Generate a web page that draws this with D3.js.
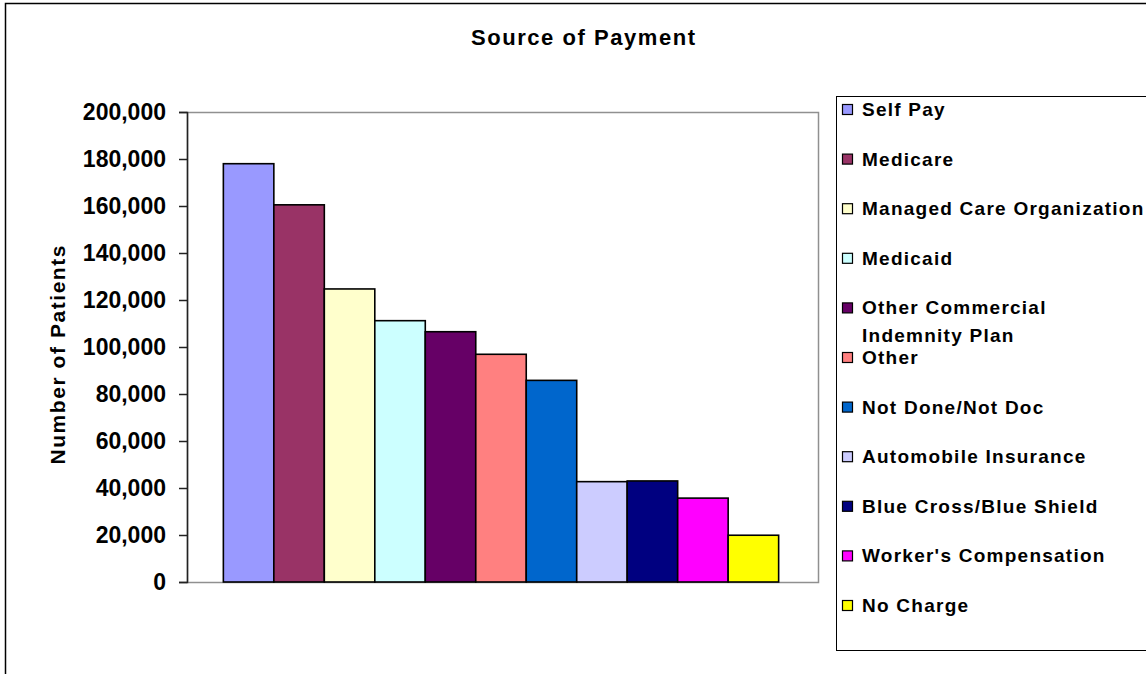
<!DOCTYPE html>
<html>
<head>
<meta charset="utf-8">
<script src="https://cdn.jsdelivr.net/npm/d3@7/dist/d3.min.js"></script>
<style>
  html, body { margin: 0; padding: 0; background: #fff; overflow: hidden; }
  svg { display: block; font-family: "Liberation Sans", Arial, sans-serif; font-weight: bold; }
</style>
</head>
<body>
<svg id="chart" width="1146" height="674"></svg>
<script>
// Patients by source of payment
const categories = [
  "Self Pay", "Medicare", "Managed Care Organization", "Medicaid",
  "Other Commercial Indemnity Plan", "Other", "Not Done/Not Doc",
  "Automobile Insurance", "Blue Cross/Blue Shield", "Worker's Compensation", "No Charge"
];
const patients = [178000, 160500, 124700, 111200, 106500, 96900, 85800, 42700, 43000, 35700, 19900];
const barColors = [
  "#9999FF", "#993366", "#FFFFCC", "#CCFFFF", "#660066", "#FF8080",
  "#0066CC", "#CCCCFF", "#000080", "#FF00FF", "#FFFF00"
];
// legend text, one array entry per line
const legendLines = [
  ["Self Pay"], ["Medicare"], ["Managed Care Organization"], ["Medicaid"],
  ["Other Commercial", "Indemnity Plan"], ["Other"], ["Not Done/Not Doc"],
  ["Automobile Insurance"], ["Blue Cross/Blue Shield"], ["Worker's Compensation"], ["No Charge"]
];
const yTicks = [0, 20000, 40000, 60000, 80000, 100000, 120000, 140000, 160000, 180000, 200000];
const chartTitle = "Source of Payment";
const yTitle = "Number of Patients";

const svg = d3.select("#chart");

// outer chart frame (runs off the right and bottom edges)
svg.append("rect")
  .attr("x", 5.5).attr("y", 3.5).attr("width", 1300).attr("height", 800)
  .attr("fill", "#fff").attr("stroke", "#000").attr("stroke-width", 1.5);

const plot = { left: 187, right: 818, top: 112, bottom: 582 };

const y = d3.scaleLinear().domain([0, 200000]).range([plot.bottom, plot.top]);
const x = d3.scaleBand().domain(categories)
  .range([plot.left - 1.5, plot.right - 1.5])
  .paddingInner(0).paddingOuter(0.75);

// plot area border
svg.append("rect")
  .attr("x", plot.left + 0.5).attr("y", plot.top + 0.5)
  .attr("width", plot.right - plot.left).attr("height", plot.bottom - plot.top)
  .attr("fill", "#fff").attr("stroke", "#909090").attr("stroke-width", 1.5);

// bars
svg.append("g").selectAll("rect")
  .data(categories)
  .join("rect")
  .attr("x", d => x(d))
  .attr("y", (d, i) => y(patients[i]))
  .attr("width", x.bandwidth())
  .attr("height", (d, i) => y(0) - y(patients[i]))
  .attr("fill", (d, i) => barColors[i])
  .attr("stroke", "#000").attr("stroke-width", 1.6);

// y axis
const yAxis = svg.append("g")
  .attr("transform", `translate(${plot.left},0)`)
  .call(d3.axisLeft(y).tickValues(yTicks).tickFormat(d3.format(",")).tickSize(8).tickPadding(13));
yAxis.select(".domain").attr("stroke", "#222").attr("stroke-width", 1.5);
yAxis.selectAll(".tick line").attr("stroke", "#222").attr("stroke-width", 1.5);
yAxis.selectAll(".tick text")
  .attr("fill", "#000")
  .style("font-size", "23px").style("font-weight", "bold")
  .style("font-family", "'Liberation Sans', Arial, sans-serif");

// title
svg.append("text")
  .attr("x", 583).attr("y", 45)
  .attr("text-anchor", "middle")
  .attr("textLength", 224).attr("lengthAdjust", "spacing")
  .style("font-size", "22px")
  .text(chartTitle);

// y axis title
svg.append("text")
  .attr("transform", "translate(65,355) rotate(-90)")
  .attr("text-anchor", "middle")
  .attr("textLength", 219).attr("lengthAdjust", "spacing")
  .style("font-size", "21px")
  .text(yTitle);

// legend
const legend = svg.append("g");
legend.append("rect")
  .attr("x", 836.5).attr("y", 96.5).attr("width", 400).attr("height", 554)
  .attr("fill", "#fff").attr("stroke", "#000").attr("stroke-width", 1);

const legendItems = legend.selectAll("g.item")
  .data(categories)
  .join("g").attr("class", "item")
  .attr("transform", (d, i) => `translate(0,${116 + i * 49.6})`);

legendItems.append("rect")
  .attr("x", 842.5).attr("y", -11.5).attr("width", 10).attr("height", 10)
  .attr("fill", (d, i) => barColors[i])
  .attr("stroke", "#000").attr("stroke-width", 1.2);

legendItems.append("text")
  .attr("x", 862)
  .style("font-size", "19px").style("letter-spacing", "1.25px")
  .selectAll("tspan")
  .data((d, i) => legendLines[i])
  .join("tspan")
  .attr("x", 862)
  .attr("dy", (d, j) => j === 0 ? 0 : 27.4)
  .text(d => d);
</script>
</body>
</html>
